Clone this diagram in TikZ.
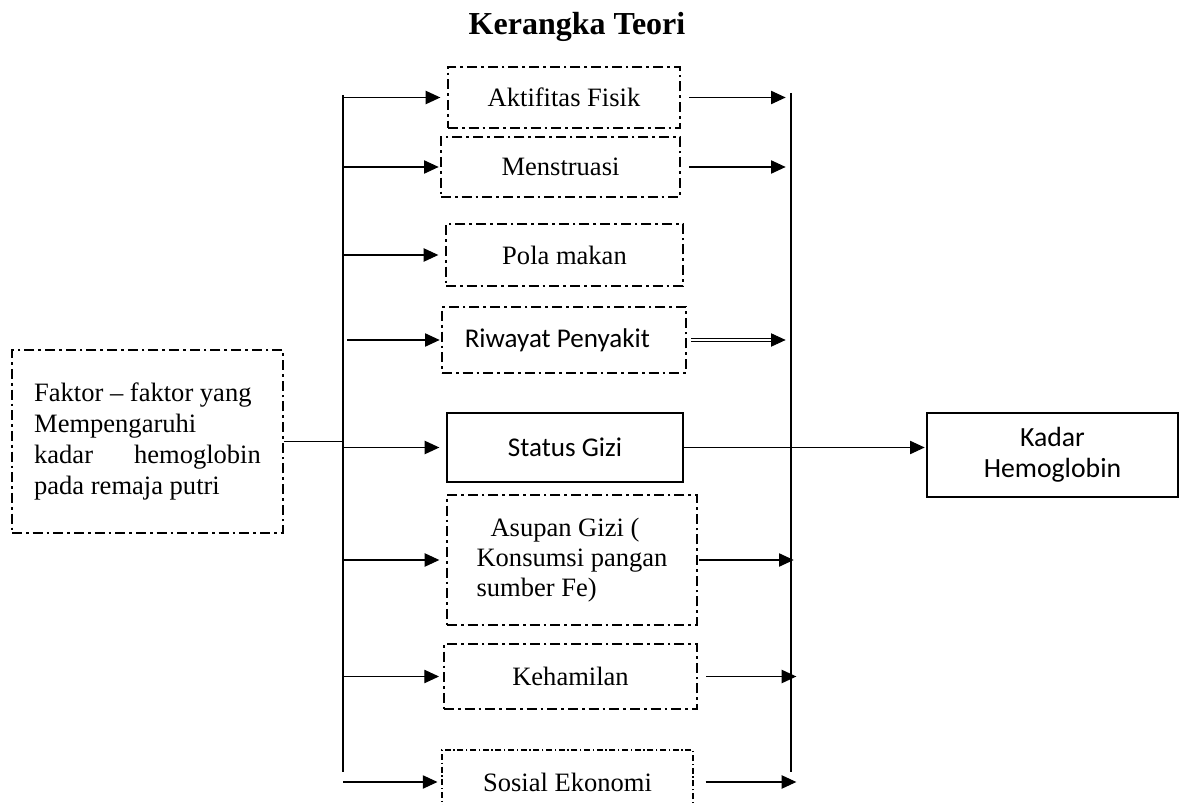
\documentclass[tikz,border=0pt]{standalone}
\usepackage{fontspec}
\setmainfont{Liberation Serif}
\newfontfamily\calibri{Carlito}
\usetikzlibrary{arrows.meta}

\tikzset{
    box/.style={draw, line width=1.5pt, dash pattern=on 7.5pt off 3pt on 2pt off 3pt,
        inner sep=0pt, font=\fontsize{19.9}{23.3}\selectfont},
    thinbox/.style={box, line width=0.8pt, dash pattern=on 4.5pt off 2pt on 1pt off 2pt},
    solidbox/.style={box, solid},
    sans/.style={font=\calibri\fontsize{20.3}{23.3}\selectfont},
    arr/.style={line width=0.9pt, -{Triangle[length=11pt,width=10pt]}},
    link/.style={line width=0.9pt},
}

\begin{document}
\begin{tikzpicture}[x=0.75pt, y=-0.75pt]
        \useasboundingbox (0,0) rectangle (1183,805);
        \node (judul) at (577,27) {\bfseries\fontsize{24}{28}\selectfont Kerangka Teori};
        \node[box, minimum width=203.25pt, minimum height=137.25pt, align=left] (faktor) at (147.5,441.5)
            {Faktor -- faktor yang\\ Mempengaruhi\\ \makebox[170pt][l]{kadar\hfill hemoglobin}\\ pada remaja putri};
        \node[box, minimum width=174pt, minimum height=45.75pt] (aktif) at (564,97.5) {Aktifitas Fisik};
        \node[box, minimum width=179.25pt, minimum height=45pt] (mens) at (560.5,167) {Menstruasi};
        \node[box, minimum width=177.75pt, minimum height=46.5pt] (pola) at (564.5,255) {Pola makan};
        \node[box, sans, minimum width=183pt, minimum height=49.5pt] (riwayat) at (564,340) {Riwayat Penyakit\hspace*{10pt}};
        \node[solidbox, sans, minimum width=177pt, minimum height=51.75pt] (status) at (565,447.5) {Status Gizi};
        \node[box, minimum width=187.5pt, minimum height=97.5pt, align=left, font=\fontsize{19.9}{22.5}\selectfont] (asupan) at (572,560)
            {\hspace*{10.5pt}Asupan Gizi (\\ Konsumsi pangan\\ sumber Fe)};
        \node[box, minimum width=189.75pt, minimum height=48.75pt] (hamil) at (570.5,676.5) {Kehamilan};
        \node[thinbox, minimum width=188.25pt, minimum height=48pt] (sosial) at (567.5,782) {Sosial Ekonomi};
        \node[solidbox, minimum width=188.25pt, minimum height=63pt, align=center, font=\calibri\fontsize{20.8}{23.5}\selectfont] (kadar) at (1052.5,455)
            {Kadar\\ Hemoglobin};
        \coordinate (lt) at (343,95);
        \coordinate (lb) at (343,772);
        \coordinate (rt) at (791,93);
        \coordinate (rb) at (791,772);
        \draw[link] (lt) -- (lb);
        \draw[link] (rt) -- (rb);
        \draw[link] (faktor.east) -- (lt |- faktor.east);
        \draw[arr, shorten >=5pt] (lt |- aktif.west) -- (aktif.west);
        \draw[arr, shorten >=1pt] (lt |- mens.west) -- (mens.west);
        \draw[arr, shorten >=5pt] (lt |- pola.west) -- (pola.west);
        \draw[arr, shorten >=1pt] ([xshift=3pt]lt |- riwayat.west) -- (riwayat.west);
        \draw[arr, shorten >=5pt] (lt |- status.west) -- (status.west);
        \draw[arr, shorten >=5pt] (lt |- asupan.west) -- (asupan.west);
        \draw[arr, shorten >=3pt] (lt |- hamil.west) -- (hamil.west);
        \draw[arr, shorten >=3pt] (lt |- sosial.west) -- (sosial.west);
        \draw[arr, shorten <=6pt, shorten >=4pt] (aktif.east) -- (rt |- aktif.east);
        \draw[arr, shorten <=6pt, shorten >=4pt] (mens.east) -- (rt |- mens.east);
        \draw[arr, double, double distance=1.2pt, line width=0.7pt, shorten <=3pt, shorten >=4pt] (riwayat.east) -- (rt |- riwayat.east);
        \draw[arr, shorten >=1pt] (status.east) -- (kadar.west |- status.east);
        \draw[arr, shorten <=1pt, shorten >=-2pt] (asupan.east) -- (rt |- asupan.east);
        \draw[arr, shorten <=6pt, shorten >=-4pt] (hamil.east) -- (rt |- hamil.east);
        \draw[arr, shorten <=9pt, shorten >=-4pt] (sosial.east) -- (rt |- sosial.east);
\end{tikzpicture}
\end{document}
